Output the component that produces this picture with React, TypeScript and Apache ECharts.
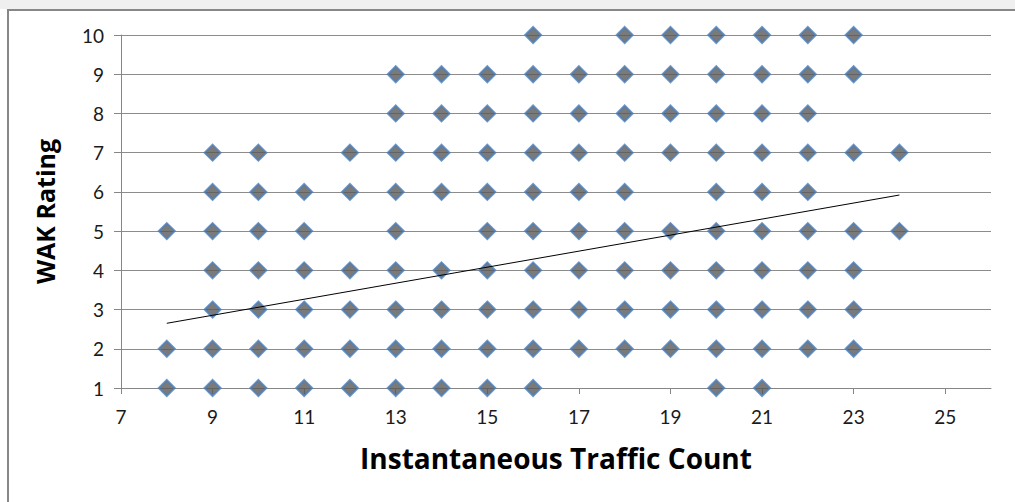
import React, { useEffect, useRef } from "react";
import * as echarts from "echarts";

// Traffic counts observed at each WAK rating level
const rating1X = [8, 9, 10, 11, 12, 13, 14, 15, 16, 20, 21];
const rating2X = [8, 9, 10, 11, 12, 13, 14, 15, 16, 17, 18, 19, 20, 21, 22, 23];
const rating3X = [9, 10, 11, 12, 13, 14, 15, 16, 17, 18, 19, 20, 21, 22, 23];
const rating4X = [9, 10, 11, 12, 13, 14, 15, 16, 17, 18, 19, 20, 21, 22, 23];
const rating5X = [8, 9, 10, 11, 13, 15, 16, 17, 18, 19, 20, 21, 22, 23, 24];
const rating6X = [9, 10, 11, 12, 13, 14, 15, 16, 17, 18, 20, 21, 22];
const rating7X = [9, 10, 12, 13, 14, 15, 16, 17, 18, 19, 20, 21, 22, 23, 24];
const rating8X = [13, 14, 15, 16, 17, 18, 19, 20, 21, 22];
const rating9X = [13, 14, 15, 16, 17, 18, 19, 20, 21, 22, 23];
const rating10X = [16, 18, 19, 20, 21, 22, 23];

const ratingRows = [rating1X, rating2X, rating3X, rating4X, rating5X, rating6X, rating7X, rating8X, rating9X, rating10X];
const ratingLevels = [1, 2, 3, 4, 5, 6, 7, 8, 9, 10];

// Linear trendline end points (x, y)
const trendX = [8, 24];
const trendY = [2.65, 5.92];

const xTickLabels = [7, 9, 11, 13, 15, 17, 19, 21, 23, 25];
const yTickLabels = [1, 2, 3, 4, 5, 6, 7, 8, 9, 10];

const xTitle = "Instantaneous Traffic Count";
const yTitle = "WAK Rating";

export default function App() {
  const ref = useRef<HTMLDivElement>(null);
  useEffect(() => {
    document.body.style.margin = "0";
    if (!ref.current) return;
    const chart = echarts.init(ref.current, null, { renderer: "svg" });
    const points: number[][] = [];
    ratingRows.forEach((row, i) => row.forEach((x) => points.push([x, ratingLevels[i]])));
    const font = "Lato, 'Open Sans', sans-serif";
    const titleFont = "'Open Sans', Lato, sans-serif";
    chart.setOption({
      animation: false,
      backgroundColor: "#ffffff",
      graphic: [
        { type: "rect", shape: { x: 0, y: 0, width: 1015, height: 9 }, style: { fill: "#efefef" }, silent: true },
        { type: "rect", shape: { x: 8, y: 10, width: 1020, height: 500 }, style: { fill: "none", stroke: "#878787", lineWidth: 2 }, silent: true },
      ],
      grid: { left: 121, right: 24, top: 35, bottom: 114, containLabel: false },
      xAxis: {
        type: "value",
        min: 7,
        max: 26,
        name: xTitle,
        nameLocation: "middle",
        nameGap: 56,
        nameTextStyle: { fontFamily: titleFont, fontWeight: "bold", fontSize: 28, color: "#000" },
        axisLine: { show: true, onZero: false, lineStyle: { color: "#868686", width: 1 } },
        axisTick: { show: true, length: 6, customValues: xTickLabels, lineStyle: { color: "#868686" } },
        axisLabel: { customValues: xTickLabels, margin: 19, fontFamily: font, fontSize: 19, color: "#1a1a1a" },
        splitLine: { show: false },
      },
      yAxis: {
        type: "value",
        min: 1,
        max: 10,
        interval: 1,
        name: yTitle,
        nameLocation: "middle",
        nameGap: 64,
        nameRotate: 90,
        nameTextStyle: { fontFamily: titleFont, fontWeight: "bold", fontSize: 25, color: "#000" },
        axisLine: { show: true, lineStyle: { color: "#868686", width: 1 } },
        axisTick: { show: true, length: 7, lineStyle: { color: "#868686" } },
        axisLabel: {
          margin: 17,
          fontFamily: font,
          fontSize: 19,
          color: "#1a1a1a",
          formatter: (v: number) => (yTickLabels.includes(v) ? String(v) : ""),
        },
        splitLine: { show: true, lineStyle: { color: "#8c8c8c", width: 1 } },
      },
      series: [
        {
          type: "scatter",
          data: points,
          symbol: "diamond",
          symbolSize: 16,
          itemStyle: { color: "#595959", borderColor: "#4a7ebb", borderWidth: 2 },
          z: 3,
        },
        {
          type: "line",
          data: trendX.map((x, i) => [x, trendY[i]]),
          showSymbol: false,
          symbol: "none",
          lineStyle: { color: "#000000", width: 1 },
          z: 4,
        },
      ],
    });
    return () => chart.dispose();
  }, []);
  return <div ref={ref} style={{ width: 1015, height: 502 }} />;
}
